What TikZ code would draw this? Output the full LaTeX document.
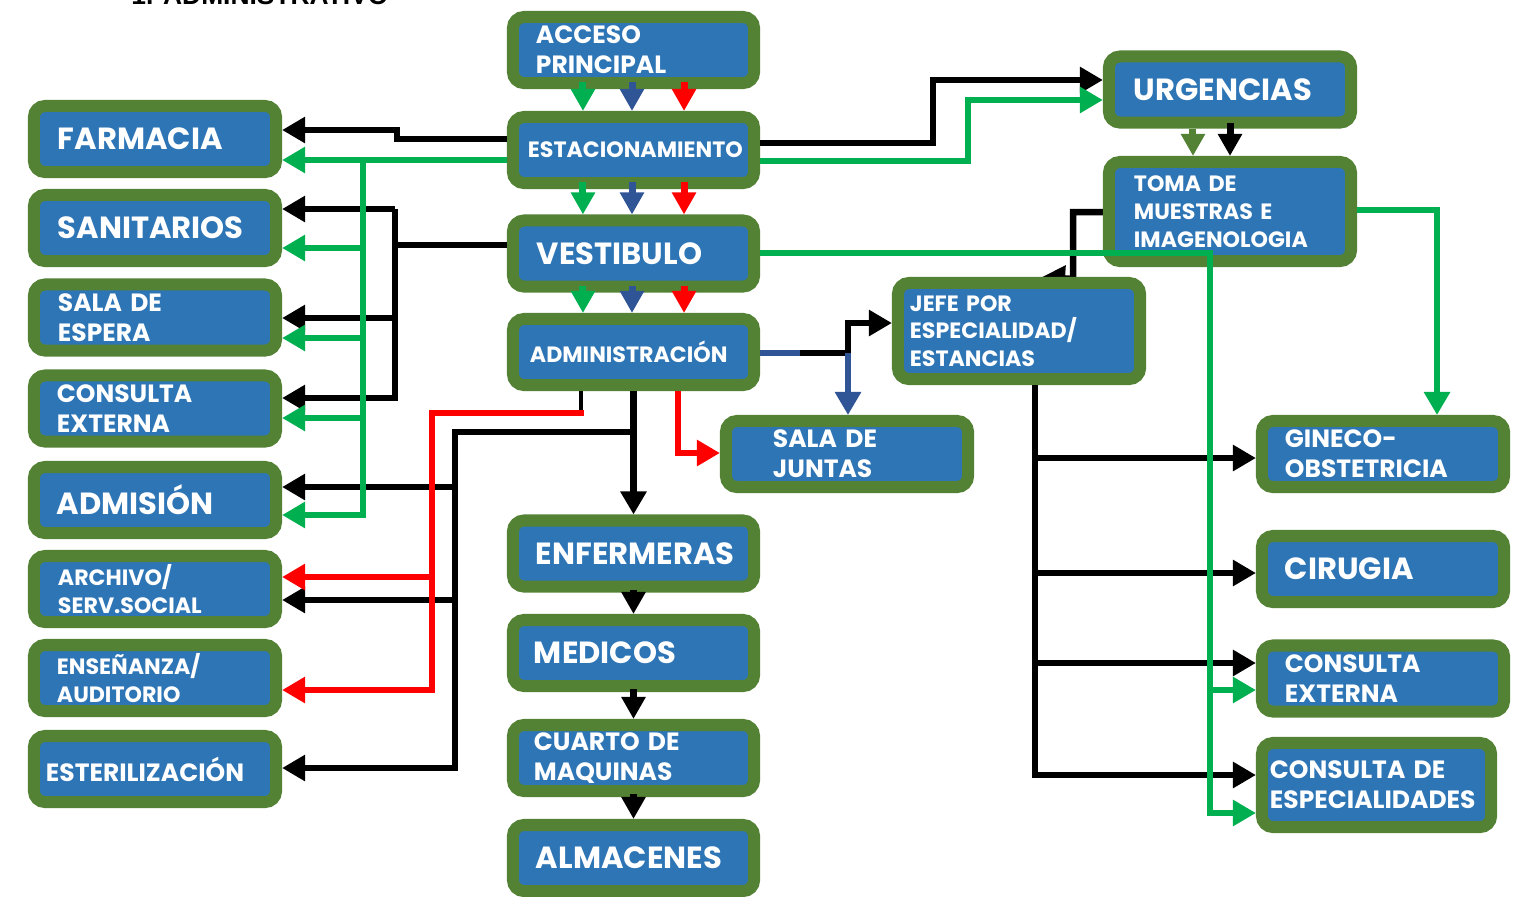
\documentclass[tikz,border=0pt]{standalone}
\usepackage{fontspec}
\setmainfont{Poppins}
\newfontfamily\titlefont{Liberation Sans}
\usetikzlibrary{arrows.meta,calc,backgrounds}

\definecolor{roomblue}{RGB}{46,117,182}
\definecolor{roomgreen}{RGB}{84,130,53}
\definecolor{flowgreen}{RGB}{0,176,80}
\definecolor{flowblue}{RGB}{47,85,151}
\definecolor{flowred}{RGB}{255,0,0}

\newcommand{\roomlarge}{\fontsize{8.7}{10}\selectfont\bfseries}
\newcommand{\roommid}{\fontsize{7.1}{8.6}\selectfont\bfseries}
\newcommand{\roomsmall}{\fontsize{6.3}{7.9}\selectfont\bfseries}

\begin{document}
\begin{tikzpicture}[
  x=0.01cm, y=-0.01cm,
  room/.style={rectangle, draw=roomgreen, fill=roomblue, line width=0.12cm,
               rounded corners=0.11cm, inner sep=0pt, minimum width=2.41cm,
               minimum height=0.66cm, text=white, align=left},
  bigtext/.style={font=\roomlarge},
  midtext/.style={font=\roommid},
  smalltext/.style={font=\roomsmall},
  bus/.style={line width=0.065cm},
  link/.style={line width=0.065cm, -{Triangle[length=0.23cm,width=0.25cm]}},
  feed/.style={line width=0.07cm, -{Triangle[length=0.22cm,width=0.23cm]}},
]
  \useasboundingbox (0,0) rectangle (1527,896);

  % ===== Title (cut by the page top) =====
  \node[anchor=base west, font=\titlefont\fontsize{7.5}{9}\selectfont\bfseries]
       (titulo) at (119,4) {1. ADMINISTRATIVO};

  % ===== Centre column =====
  \node[room, midtext, text width=1.95cm]   (acceso)     at (633.5,50)  {ACCESO\\PRINCIPAL};
  \node[room, smalltext, text width=2.11cm] (estac)      at (633.5,150) {ESTACIONAMIENTO};
  \node[room, bigtext, text width=1.93cm]   (vestibulo)  at (633.5,253.5) {VESTIBULO};
  \node[room, smalltext, text width=2.07cm] (admin)      at (633.5,352) {ADMINISTRACIÓN};
  \node[room, bigtext, text width=1.95cm]   (enfermeras) at (633.5,553.5) {ENFERMERAS};
  \node[room, bigtext, text width=1.99cm]   (medicos)    at (633.5,653) {MEDICOS};
  \node[room, midtext, text width=1.99cm]   (cuarto)     at (633.5,758) {CUARTO DE\\MAQUINAS};
  \node[room, bigtext, text width=1.95cm]   (almacenes)  at (633.5,858) {ALMACENES};

  % ===== Left column =====
  \node[room, bigtext, minimum width=2.42cm, text width=1.94cm]   (farmacia)   at (155,139) {FARMACIA};
  \node[room, bigtext, minimum width=2.42cm, text width=1.94cm]   (sanitarios) at (155,228) {SANITARIOS};
  \node[room, midtext, minimum width=2.42cm, text width=1.94cm]   (espera)     at (155,317.5) {SALA DE\\ESPERA};
  \node[room, midtext, minimum width=2.42cm, text width=1.96cm]   (cexterna)   at (155,408.5) {CONSULTA\\EXTERNA};
  \node[room, bigtext, minimum width=2.42cm, text width=1.96cm]   (admision)   at (155,500) {ADMISIÓN};
  \node[room, smalltext, minimum width=2.42cm, text width=1.94cm] (archivo)    at (155,589) {ARCHIVO/\\SERV.SOCIAL};
  \node[room, smalltext, minimum width=2.42cm, text width=1.96cm] (ensenanza)  at (155,678) {ENSEÑANZA/\\AUDITORIO};
  \node[room, midtext, minimum width=2.42cm, text width=2.18cm]   (esteril)    at (155,769) {ESTERILIZACIÓN};

  % ===== Right side =====
  \node[room, bigtext, minimum width=2.42cm, text width=1.92cm] (urgencias) at (1230,89.5) {URGENCIAS};
  \node[room, smalltext, minimum width=2.42cm, minimum height=0.99cm, text width=1.92cm]
       (toma) at (1230,211.5) {TOMA DE\\MUESTRAS E\\IMAGENOLOGIA};
  \node[room, smalltext, minimum width=2.42cm, minimum height=0.96cm, text width=2.18cm]
       (jefe) at (1019,331) {JEFE POR\\ESPECIALIDAD/\\ESTANCIAS};
  \node[room, midtext, minimum width=2.42cm, text width=1.48cm] (juntas)    at (847,454) {SALA DE\\JUNTAS};
  \node[room, midtext, minimum width=2.42cm, text width=1.96cm] (gineco)    at (1383,454) {GINECO-\\OBSTETRICIA};
  \node[room, bigtext, minimum width=2.42cm, text width=1.96cm] (cirugia)   at (1383,569) {CIRUGIA};
  \node[room, midtext, minimum width=2.42cm, text width=1.96cm] (cexterna2) at (1383,678.5) {CONSULTA\\EXTERNA};
  \node[room, midtext, minimum width=2.29cm, minimum height=0.84cm, text width=2.13cm]
       (cesp) at (1376.5,785) {CONSULTA DE\\ESPECIALIDADES};

  % ===== Centre column: short feeds =====
  \foreach \src/\dst in {acceso/estac, estac/vestibulo, vestibulo/admin}{
    \draw[feed, flowgreen] ([xshift=-0.505cm, yshift=0.07cm]\src.south) -- ([xshift=-0.505cm]\dst.north);
    \draw[feed, flowblue]  ([xshift=-0.015cm, yshift=0.07cm]\src.south) -- ([xshift=-0.015cm]\dst.north);
    \draw[feed, flowred]   ([xshift=0.505cm, yshift=0.07cm]\src.south)  -- ([xshift=0.505cm]\dst.north);
  }
  \foreach \src/\dst in {enfermeras/medicos, medicos/cuarto, cuarto/almacenes}
    \draw[feed] ([yshift=0.03cm]\src.south) -- (\dst.north);

  % ===== Left side: black =====
  \draw[link] (estac.west |- 0,139) -- (397,139) -- (397,130) -- (farmacia.east |- 0,130);
  \draw[bus]  (vestibulo.west |- 0,245) -- (395,245);
  \draw[link] (395,209) -- (395,398) -- (cexterna.east |- 0,398);
  \draw[link] (395,209) -- (sanitarios.east |- 0,209);
  \draw[link] (395,318) -- (espera.east |- 0,318);

  % admin down and to the left
  \draw[line width=0.035cm] (581,0 |- admin.south) -- (581,413);
  \draw[link] (admin.south) -- (enfermeras.north);
  \draw[link] (admin.south |- 0,432) -- (455,432) -- (455,768) -- (esteril.east |- 0,768);
  \draw[link] (455,487) -- (admision.east |- 0,487);
  \draw[link] (455,600) -- (archivo.east |- 0,600);
  \draw[link, flowred] (584,413) -- (432,413) -- (432,690) -- (ensenanza.east |- 0,690);
  \draw[link, flowred] (432,577) -- (archivo.east |- 0,577);
  \draw[link, flowred] (678,0 |- admin.south) -- (678,453) -- (juntas.west |- 0,453);

  % ===== Left side: green =====
  \draw[link, flowgreen] (estac.west |- 0,160) -- (farmacia.east |- 0,160);
  \draw[link, flowgreen] (363,160) -- (363,515) -- (admision.east |- 0,515);
  \foreach \dst/\y in {sanitarios/248, espera/338, cexterna/418}
    \draw[link, flowgreen] (363,\y) -- (\dst.east |- 0,\y);

  % ===== Right side =====
  \draw[link] (estac.east |- 0,143) -- (933,143) -- (933,80) -- (urgencias.west |- 0,80);
  \draw[link, flowgreen] (estac.east |- 0,161) -- (968,161) -- (968,100) -- (urgencias.west |- 0,100);

  \draw[feed, roomgreen] ([xshift=-0.37cm]urgencias.south) -- ([xshift=-0.37cm]toma.north);
  \draw[feed] ([yshift=0.06cm]urgencias.south) -- (toma.north);

  \begin{scope}[on background layer]
    \draw[link] (toma.west |- 0,212) -- (1073,212) -- (1073,279) -- (1042,0 |- jefe.north);
  \end{scope}

  \draw[bus, flowblue] (admin.east |- 0,353) -- (800,353);
  \draw[link] (800,353) -- (848,353) -- (848,323) -- (jefe.west |- 0,323);
  \draw[link, flowblue] (848,353) -- (848,0 |- juntas.north);

  \draw[link] (1035,0 |- jefe.south) -- (1035,775) -- (cesp.west |- 0,775);
  \foreach \dst/\y in {gineco/458, cirugia/573, cexterna2/663}
    \draw[link] (1035,\y) -- (\dst.west |- 0,\y);

  \draw[link, flowgreen] (toma.east |- 0,210) -- (1437,210) -- (1437,0 |- gineco.north);
  \draw[link, flowgreen] (vestibulo.east |- 0,253) -- (1210,253) -- (1210,813) -- (cesp.west |- 0,813);
  \draw[link, flowgreen] (1210,690) -- (cexterna2.west |- 0,690);

\end{tikzpicture}
\end{document}
